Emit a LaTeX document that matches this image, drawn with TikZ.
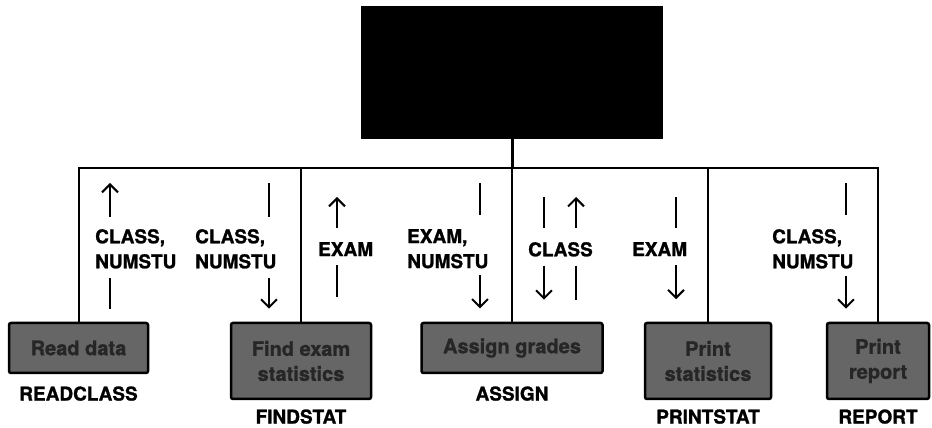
\documentclass[tikz,border=0pt]{standalone}
\usepackage{fontspec}
\setmainfont{TeX Gyre Heros}[BoldFeatures={FakeBold=1.2}]
\usetikzlibrary{positioning, arrows.meta}

\begin{document}
\begin{tikzpicture}[x=1pt, y=1pt,
    modbox/.style={draw=black, line width=2.5pt, fill=black!60, text=black!85,
      rounded corners=2pt, inner sep=0pt, align=center,
      font=\fontsize{20}{25}\selectfont\bfseries},
    modname/.style={inner sep=0pt, font=\fontsize{19}{24}\selectfont\bfseries},
    flow/.style={inner sep=0pt, anchor=north west, align=left,
      font=\fontsize{19}{25}\selectfont\bfseries},
    link/.style={line width=2pt},
    bar/.style={line width=2pt},
    tip/.style={line width=2pt, -{Straight Barb[length=8pt,width=16pt]}}]
    \useasboundingbox (0,0) rectangle (932,428);

    % Main module
    \node[draw, fill=black, line width=2pt, inner sep=0pt,
      minimum width=300pt, minimum height=131pt] (main) at (512,355.5) {};
    \coordinate (bus) at (512,260);

    % Submodules
    \node[modbox, minimum width=139pt, minimum height=50pt] (read) at (78.5,80) {Read data};
    \node[modbox, minimum width=140pt, minimum height=76pt] (find) at (301,67) {Find exam\\statistics};
    \node[modbox, minimum width=181pt, minimum height=50pt] (assign) at (512,80) {Assign grades};
    \node[modbox, minimum width=126pt, minimum height=76pt] (print) at (708,67) {Print\\statistics};
    \node[modbox, minimum width=102pt, minimum height=76pt] (report) at (878,67) {Print\\report};

    \node[modname, below=12pt of read] (readname) {READCLASS};
    \node[modname, below=9pt of find] (findname) {FINDSTAT};
    \node[modname, below=12pt of assign] (assignname) {ASSIGN};
    \node[modname, below=9pt of print] (printname) {PRINTSTAT};
    \node[modname, below=9pt of report] (reportname) {REPORT};

    % Structure lines
    \draw[line width=3pt] (main.south) -- (bus);
    \draw[link] (read.north) |- (bus) -| (report.north);
    \draw[link] (find.north) -- (find.north |- bus);
    \draw[link] (assign.north) -- (bus);
    \draw[link] (print.north) -- (print.north |- bus);

    % Data flow, READCLASS and FINDSTAT
    \node[flow] (cls1) at (95,199) {CLASS,\\NUMSTU};
    \draw[tip] ([xshift=15pt,yshift=12pt]cls1.north west) -- ++(0,34);
    \draw[bar] ([xshift=15pt,yshift=-9pt]cls1.south west) -- ++(0,-31);

    \node[flow] (cls2) at (195,199) {CLASS,\\NUMSTU};
    \draw[bar] ([xshift=74pt,yshift=12pt]cls2.north west) -- ++(0,34);
    \draw[tip] ([xshift=74pt,yshift=-9pt]cls2.south west) -- ++(0,-31);

    \node[flow] (exam1) at (318,186) {EXAM};
    \draw[tip] ([xshift=19pt,yshift=14pt]exam1.north west) -- ++(0,31);
    \draw[bar] ([xshift=19pt,yshift=-9pt]exam1.south west) -- ++(0,-32);

    % Data flow, ASSIGN
    \node[flow] (exnum) at (407,199) {EXAM,\\NUMSTU};
    \draw[bar] ([xshift=73pt,yshift=14pt]exnum.north west) -- ++(0,32);
    \draw[tip] ([xshift=73pt,yshift=-7pt]exnum.south west) -- ++(0,-33);

    \node[flow] (cls3) at (528,186) {CLASS};
    \draw[bar] ([xshift=16pt,yshift=14pt]cls3.north west) -- ++(0,31);
    \draw[tip] ([xshift=16pt,yshift=-9pt]cls3.south west) -- ++(0,-34);
    \draw[tip] ([xshift=48pt,yshift=14pt]cls3.north west) -- ++(0,31);
    \draw[bar] ([xshift=48pt,yshift=-9pt]cls3.south west) -- ++(0,-34);

    % Data flow, PRINTSTAT and REPORT
    \node[flow] (exam2) at (632,186) {EXAM};
    \draw[bar] ([xshift=44pt,yshift=14pt]exam2.north west) -- ++(0,31);
    \draw[tip] ([xshift=44pt,yshift=-9pt]exam2.south west) -- ++(0,-34);

    \node[flow] (cls4) at (772,199) {CLASS,\\NUMSTU};
    \draw[bar] ([xshift=74pt,yshift=14pt]cls4.north west) -- ++(0,32);
    \draw[tip] ([xshift=74pt,yshift=-7pt]cls4.south west) -- ++(0,-33);
\end{tikzpicture}
\end{document}
